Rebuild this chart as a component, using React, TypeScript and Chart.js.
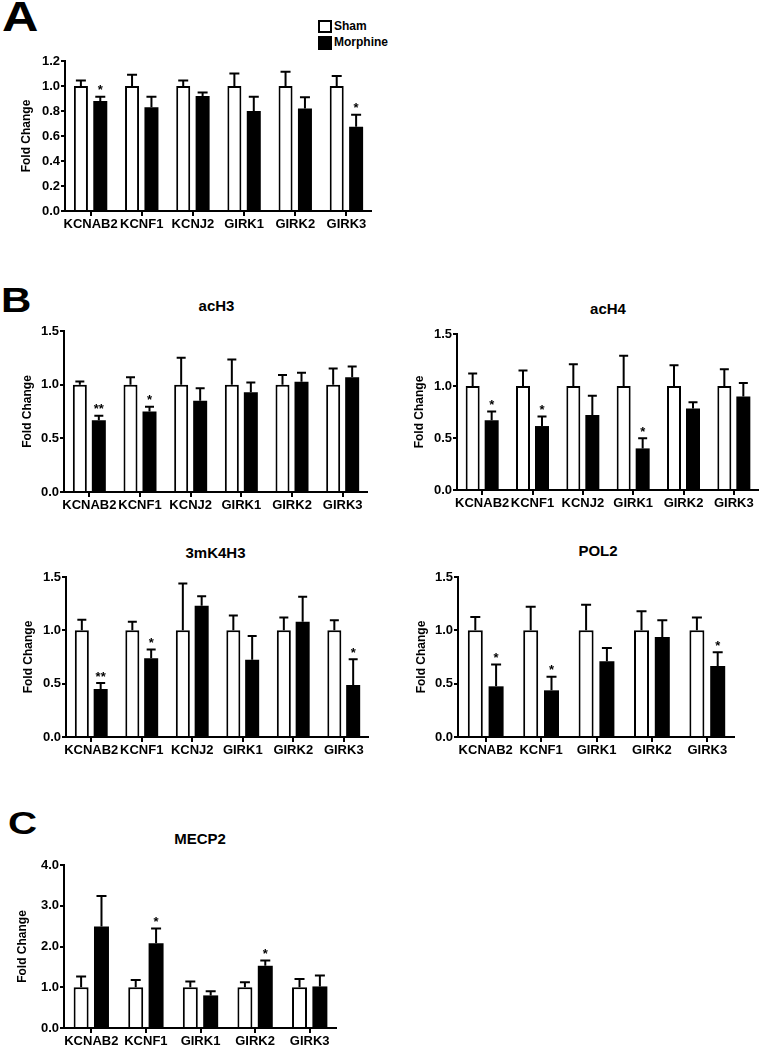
import React, { useEffect, useRef } from 'react';
import { Chart, registerables } from 'chart.js';

Chart.register(...registerables);

const FONT = '"Liberation Sans", Arial, Helvetica, sans-serif';

// ---------- DATA ----------
const genes6 = ['KCNAB2', 'KCNF1', 'KCNJ2', 'GIRK1', 'GIRK2', 'GIRK3'];
const genes5 = ['KCNAB2', 'KCNF1', 'GIRK1', 'GIRK2', 'GIRK3'];

// Panel A
const shamA = [1.0, 1.0, 1.0, 1.0, 1.0, 1.0];
const shamErrA = [1.045, 1.09, 1.045, 1.1, 1.115, 1.08];
const morphA = [0.88, 0.83, 0.92, 0.8, 0.82, 0.675];
const morphErrA = [0.915, 0.915, 0.948, 0.915, 0.91, 0.77];
const starsA = ['*', '', '', '', '', '*'];

// Panel B - acH3
const shamAcH3 = [1.0, 1.0, 1.0, 1.0, 1.0, 1.0];
const shamErrAcH3 = [1.03, 1.07, 1.25, 1.235, 1.09, 1.15];
const morphAcH3 = [0.668, 0.75, 0.85, 0.93, 1.028, 1.068];
const morphErrAcH3 = [0.71, 0.795, 0.966, 1.02, 1.11, 1.17];
const starsAcH3 = ['**', '*', '', '', '', ''];

// Panel B - acH4
const shamAcH4 = [1.0, 1.0, 1.0, 1.0, 1.0, 1.0];
const shamErrAcH4 = [1.12, 1.15, 1.21, 1.29, 1.2, 1.16];
const morphAcH4 = [0.67, 0.615, 0.72, 0.4, 0.783, 0.898];
const morphErrAcH4 = [0.755, 0.707, 0.907, 0.497, 0.844, 1.03];
const starsAcH4 = ['*', '*', '', '*', '', ''];

// Panel B - 3mK4H3
const sham3m = [1.0, 1.0, 1.0, 1.0, 1.0, 1.0];
const shamErr3m = [1.1, 1.08, 1.44, 1.14, 1.12, 1.094];
const morph3m = [0.45, 0.738, 1.23, 0.725, 1.08, 0.4875];
const morphErr3m = [0.506, 0.82, 1.32, 0.947, 1.316, 0.728];
const stars3m = ['**', '*', '', '', '', '*'];

// Panel B - POL2
const shamPol2 = [1.0, 1.0, 1.0, 1.0, 1.0];
const shamErrPol2 = [1.125, 1.22, 1.24, 1.18, 1.12];
const morphPol2 = [0.475, 0.4375, 0.71, 0.9375, 0.666];
const morphErrPol2 = [0.68, 0.566, 0.834, 1.094, 0.794];
const starsPol2 = ['*', '*', '', '', '*'];

// Panel C - MECP2
const shamMecp2 = [1.0, 1.0, 1.0, 1.0, 1.0];
const shamErrMecp2 = [1.265, 1.18, 1.14, 1.12, 1.2];
const morphMecp2 = [2.49, 2.08, 0.8, 1.527, 1.02];
const morphErrMecp2 = [3.24, 2.44, 0.9, 1.657, 1.29];
const starsMecp2 = ['', '*', '', '*', ''];

// ---------- LAYOUT ----------
type PanelCfg = {
  labels: string[];
  sham: number[];
  shamErr: number[];
  morph: number[];
  morphErr: number[];
  stars: string[];
  max: number;
  step: number;
  axisX: number;
  right: number;
  topY: number;
  zeroY: number;
  titleX: number;
  gap: number;
  barW: number;
  capW: number;
};

const errorPlugin = {
  id: 'errbars',
  afterDatasetsDraw(chart: any) {
    const { ctx } = chart;
    const yScale = chart.scales.y;
    const capW = chart.options.plugins.errbars.capW;
    chart.data.datasets.forEach((ds: any, di: number) => {
      const meta = chart.getDatasetMeta(di);
      meta.data.forEach((bar: any, i: number) => {
        const x = bar.x;
        const top = bar.y;
        const ey = yScale.getPixelForValue(ds.errTop[i]);
        ctx.save();
        ctx.strokeStyle = '#000';
        ctx.lineWidth = 2;
        ctx.beginPath();
        ctx.moveTo(x, top);
        ctx.lineTo(x, ey);
        ctx.moveTo(x - capW / 2, ey);
        ctx.lineTo(x + capW / 2, ey);
        ctx.stroke();
        const s = ds.stars && ds.stars[i];
        if (s) {
          ctx.font = `bold 13px ${FONT}`;
          ctx.textAlign = 'center';
          ctx.textBaseline = 'alphabetic';
          ctx.fillStyle = '#000';
          ctx.fillText(s, x, ey - 2.5);
        }
        ctx.restore();
      });
    });
  },
};

const PAD_TOP = 12;
const X_H = 28;
const Y_W = 62;

function BarPanel({ p }: { p: PanelCfg }) {
  const ref = useRef<HTMLCanvasElement | null>(null);
  const canvasLeft = p.axisX - Y_W;
  const width = Math.round(p.right - canvasLeft);
  const height = Math.round(PAD_TOP + (p.zeroY - p.topY) + X_H);

  useEffect(() => {
    if (!ref.current) return;
    const cw = (p.right - p.axisX) / p.labels.length;
    const slot = 2 * p.gap;
    const cp = (2 * slot) / cw;
    const bp = p.barW / slot;
    const tickFont = { family: FONT, size: 13, weight: 'bold' as const };
    const chart = new Chart(ref.current, {
      type: 'bar',
      data: {
        labels: p.labels,
        datasets: [
          {
            label: 'Sham',
            data: p.sham,
            errTop: p.shamErr,
            stars: [],
            backgroundColor: '#ffffff',
            borderColor: '#000000',
            borderWidth: 2,
            categoryPercentage: cp,
            barPercentage: bp,
          } as any,
          {
            label: 'Morphine',
            data: p.morph,
            errTop: p.morphErr,
            stars: p.stars,
            backgroundColor: '#000000',
            borderColor: '#000000',
            borderWidth: 0,
            categoryPercentage: cp,
            barPercentage: bp,
          } as any,
        ],
      },
      options: {
        responsive: false,
        animation: false,
        devicePixelRatio: 1,
        layout: { padding: { top: PAD_TOP, left: 0, right: 0, bottom: 0 } },
        plugins: {
          legend: { display: false },
          tooltip: { enabled: false },
          errbars: { capW: p.capW },
        } as any,
        scales: {
          x: {
            grid: {
              offset: false,
              drawOnChartArea: false,
              drawTicks: true,
              color: '#000',
              lineWidth: 2,
              tickLength: 5,
            },
            border: { display: true, color: '#000', width: 2 },
            ticks: {
              font: tickFont,
              color: '#000',
              padding: 1,
              maxRotation: 0,
              autoSkip: false,
            },
            afterFit: (s: any) => {
              s.height = X_H;
              s.paddingLeft = 0;
              s.paddingRight = 0;
            },
          },
          y: {
            min: 0,
            max: p.max,
            grid: {
              drawOnChartArea: false,
              drawTicks: true,
              color: '#000',
              lineWidth: 2,
              tickLength: 4,
            },
            border: { display: true, color: '#000', width: 2 },
            ticks: {
              stepSize: p.step,
              font: tickFont,
              color: '#000',
              padding: 1,
              callback: (v: any) => Number(v).toFixed(1),
            },
            title: {
              display: true,
              text: 'Fold Change',
              color: '#000',
              font: { family: FONT, size: 12, weight: 'bold' },
              padding: { top: p.titleX - canvasLeft - 7.2, bottom: 0 },
            },
            afterFit: (s: any) => {
              s.width = Y_W;
              s.paddingTop = 0;
              s.paddingBottom = 0;
            },
          },
        },
      } as any,
      plugins: [errorPlugin],
    });
    return () => chart.destroy();
  }, []);

  return (
    <canvas
      ref={ref}
      width={width}
      height={height}
      style={{ position: 'absolute', left: canvasLeft, top: p.topY - PAD_TOP, width, height }}
    />
  );
}

const panels: PanelCfg[] = [
  {
    labels: genes6, sham: shamA, shamErr: shamErrA, morph: morphA, morphErr: morphErrA, stars: starsA,
    max: 1.2, step: 0.2, axisX: 65, right: 372, topY: 61, zeroY: 210.7, titleX: 27, gap: 9.7, barW: 14, capW: 10,
  },
  {
    labels: genes6, sham: shamAcH3, shamErr: shamErrAcH3, morph: morphAcH3, morphErr: morphErrAcH3, stars: starsAcH3,
    max: 1.5, step: 0.5, axisX: 64, right: 368, topY: 331, zeroY: 492, titleX: 28, gap: 9.5, barW: 14, capW: 9,
  },
  {
    labels: genes6, sham: shamAcH4, shamErr: shamErrAcH4, morph: morphAcH4, morphErr: morphErrAcH4, stars: starsAcH4,
    max: 1.5, step: 0.5, axisX: 457, right: 759, topY: 334, zeroY: 490, titleX: 420, gap: 9.5, barW: 14, capW: 9,
  },
  {
    labels: genes6, sham: sham3m, shamErr: shamErr3m, morph: morph3m, morphErr: morphErr3m, stars: stars3m,
    max: 1.5, step: 0.5, axisX: 65.5, right: 368, topY: 577.3, zeroY: 737, titleX: 28, gap: 9.4, barW: 14, capW: 9,
  },
  {
    labels: genes5, sham: shamPol2, shamErr: shamErrPol2, morph: morphPol2, morphErr: morphErrPol2, stars: starsPol2,
    max: 1.5, step: 0.5, axisX: 458, right: 735, topY: 577.3, zeroY: 737.3, titleX: 421.5, gap: 10.4, barW: 15, capW: 10,
  },
  {
    labels: genes5, sham: shamMecp2, shamErr: shamErrMecp2, morph: morphMecp2, morphErr: morphErrMecp2, stars: starsMecp2,
    max: 4, step: 1, axisX: 64.3, right: 337.7, topY: 865, zeroY: 1028.3, titleX: 23, gap: 10.2, barW: 15, capW: 10,
  },
];

const titles = [
  { text: 'acH3', x: 216.5, y: 305 },
  { text: 'acH4', x: 608, y: 308 },
  { text: '3mK4H3', x: 215.5, y: 551.7 },
  { text: 'POL2', x: 598, y: 550 },
  { text: 'MECP2', x: 200, y: 838 },
];

const letters = [
  { text: 'A', left: 2, top: -4.5, size: 42, sx: 1.2 },
  { text: 'B', left: 1, top: 282.4, size: 35, sx: 1.2 },
  { text: 'C', left: 7.5, top: 807.8, size: 31, sx: 1.3 },
];

export default function App() {
  return (
    <div
      style={{
        position: 'absolute',
        left: 0,
        top: 0,
        width: 760,
        height: 1048,
        background: '#fff',
        fontFamily: FONT,
        color: '#000',
        overflow: 'hidden',
      }}
    >
      {letters.map((l) => (
        <div
          key={l.text}
          style={{
            position: 'absolute',
            left: l.left,
            top: l.top,
            fontSize: l.size,
            lineHeight: `${l.size}px`,
            fontWeight: 'bold',
            transform: `scaleX(${l.sx})`,
            transformOrigin: 'left top',
          }}
        >
          {l.text}
        </div>
      ))}

      {/* Legend */}
      <div
        style={{
          position: 'absolute', left: 318, top: 19.5, width: 13.5, height: 13.5,
          boxSizing: 'border-box', border: '2px solid #000', background: '#fff',
        }}
      />
      <div style={{ position: 'absolute', left: 318, top: 35.5, width: 13.5, height: 14, background: '#000' }} />
      <div style={{ position: 'absolute', left: 334, top: 19, fontSize: 12, lineHeight: '14px', fontWeight: 'bold' }}>
        Sham
      </div>
      <div style={{ position: 'absolute', left: 334, top: 35, fontSize: 12, lineHeight: '14px', fontWeight: 'bold' }}>
        Morphine
      </div>

      {titles.map((t) => (
        <div
          key={t.text}
          style={{
            position: 'absolute',
            left: t.x,
            top: t.y,
            transform: 'translate(-50%, -50%)',
            fontSize: 15,
            lineHeight: '15px',
            fontWeight: 'bold',
            whiteSpace: 'nowrap',
          }}
        >
          {t.text}
        </div>
      ))}

      {panels.map((p, i) => (
        <BarPanel key={i} p={p} />
      ))}
    </div>
  );
}
